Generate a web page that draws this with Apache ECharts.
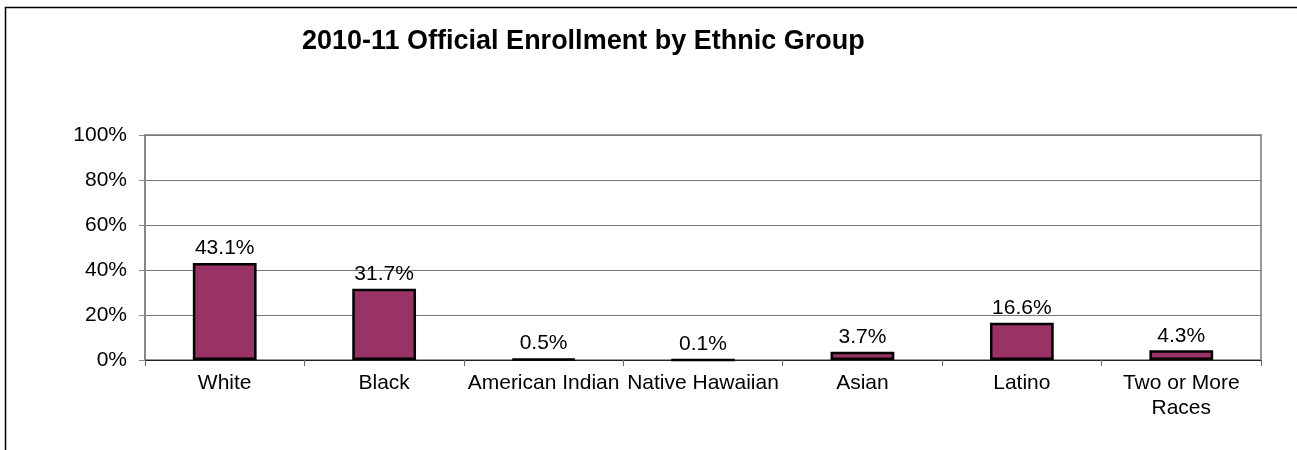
<!DOCTYPE html>
<html>
<head>
<meta charset="utf-8">
<script src="https://cdn.jsdelivr.net/npm/echarts@6/dist/echarts.min.js"></script>
<style>
html,body{margin:0;padding:0;background:#fff;}
#chart{width:1297px;height:450px;}
</style>
</head>
<body>
<div id="chart"></div>
<script>
var titleText = '2010-11 Official Enrollment by Ethnic Group';
var categories = ['White', 'Black', 'American Indian', 'Native Hawaiian', 'Asian', 'Latino', 'Two or More\nRaces'];
var values = [43.1, 31.7, 0.5, 0.1, 3.7, 16.6, 4.3];
var yTicks = [0, 20, 40, 60, 80, 100];

var font = '"Liberation Sans", Arial, Helvetica, sans-serif';
var chart = echarts.init(document.getElementById('chart'));
chart.setOption({
  animation: false,
  backgroundColor: '#fff',
  title: {
    text: titleText,
    left: 297,
    top: 23,
    textStyle: { fontFamily: font, fontSize: 27, fontWeight: 'bold', color: '#000' }
  },
  graphic: [{
    type: 'rect',
    shape: { x: 5.5, y: 7.5, width: 1400, height: 600 },
    style: { fill: 'none', stroke: '#000', lineWidth: 1.5 },
    silent: true
  }],
  grid: {
    left: 145, right: 36, top: 135, bottom: 90,
    show: true, borderColor: '#999', borderWidth: 2, backgroundColor: 'transparent'
  },
  xAxis: {
    type: 'category',
    data: categories,
    axisLine: { show: true, lineStyle: { color: '#222', width: 1 } },
    axisTick: { show: true, alignWithLabel: false, length: 6, lineStyle: { color: '#666' } },
    axisLabel: { fontFamily: font, fontSize: 21, color: '#000', margin: 11, lineHeight: 25, interval: 0 },
    splitLine: { show: false }
  },
  yAxis: {
    type: 'value',
    min: yTicks[0], max: yTicks[yTicks.length - 1], interval: 20,
    axisLine: { show: true, lineStyle: { color: '#888', width: 2 } },
    axisTick: { show: true, length: 6, lineStyle: { color: '#888' } },
    axisLabel: { fontFamily: font, fontSize: 21, color: '#000', margin: 18, formatter: '{value}%' },
    splitLine: { show: true, lineStyle: { color: '#777', width: 1 } }
  },
  series: [{
    type: 'bar',
    data: values,
    barWidth: '40%',
    itemStyle: { color: '#993366', borderColor: '#000', borderWidth: 2.5 },
    label: {
      show: true, position: 'top', distance: 4,
      fontFamily: font, fontSize: 21, color: '#000',
      formatter: function (p) { return p.value.toFixed(1) + '%'; }
    }
  }]
});
</script>
</body>
</html>
